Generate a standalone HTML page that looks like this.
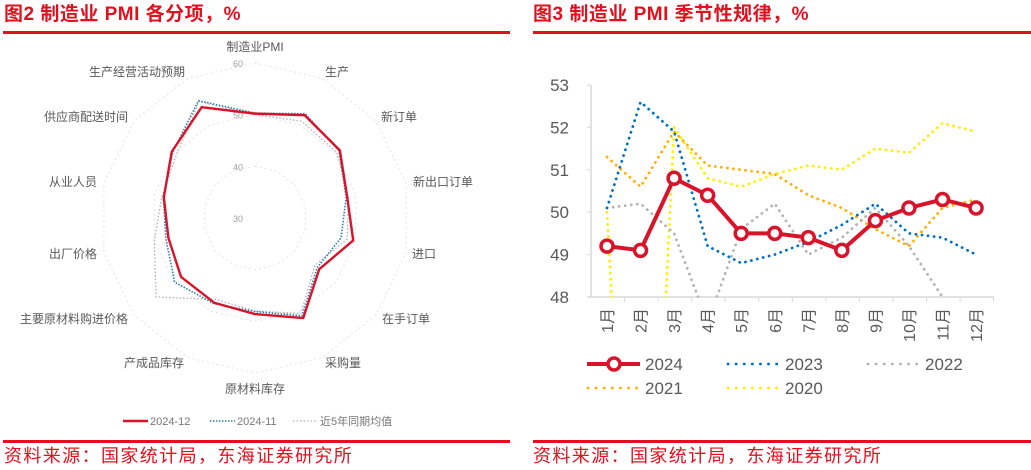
<!DOCTYPE html>
<html><head><meta charset="utf-8"><style>
body{margin:0;width:1031px;height:470px;background:#fff;overflow:hidden;font-family:"Liberation Sans","Noto Sans CJK SC",sans-serif}
.t{position:absolute;top:3px;font-size:19px;line-height:24px;font-weight:bold;color:#e0101e;white-space:nowrap;letter-spacing:0.5px}
.f{position:absolute;top:445px;font-size:18px;line-height:22px;color:#e0101e;white-space:nowrap;letter-spacing:1.4px}
.ln{position:absolute;height:3px;background:#e0101e}
svg{position:absolute;left:0;top:0}
</style></head><body>
<div class="t" style="left:4px">图2 制造业 PMI 各分项，%</div>
<div class="t" style="left:533px">图3 制造业 PMI 季节性规律，%</div>
<div class="ln" style="left:3px;top:31px;width:507px"></div>
<div class="ln" style="left:533px;top:31px;width:498px"></div>
<div class="ln" style="left:3px;top:440px;width:507px"></div>
<div class="ln" style="left:533px;top:440px;width:498px"></div>
<div class="f" style="left:4px">资料来源：国家统计局，东海证券研究所</div>
<div class="f" style="left:533px">资料来源：国家统计局，东海证券研究所</div>
<svg id="svg" width="1031" height="440"></svg>
<script>
const radarAxes=["制造业PMI","生产","新订单","新出口订单","进口","在手订单","采购量","原材料库存","产成品库存","主要原材料购进价格","出厂价格","从业人员","供应商配送时间","生产经营活动预期"];
const dec2024=[50.2,52.1,51.0,48.3,49.5,45.9,51.5,48.6,48.2,48.3,47.2,48.1,50.6,53.8];
const nov2024=[50.3,52.4,50.8,48.1,47.1,45.4,51.0,48.1,48.4,49.9,47.7,48.2,50.4,55.2];
const avg5y=[50.0,50.8,50.3,48.5,48.3,44.8,50.5,48.0,47.5,54.5,50.0,48.5,49.5,55.0];
const radarTicks=[30,40,50,60];

const months=["1月","2月","3月","4月","5月","6月","7月","8月","9月","10月","11月","12月"];
const s2024=[49.2,49.1,50.8,50.4,49.5,49.5,49.4,49.1,49.8,50.1,50.3,50.1];
const s2023=[50.1,52.6,51.9,49.2,48.8,49.0,49.3,49.7,50.2,49.5,49.4,49.0];
const s2022=[50.1,50.2,49.5,47.4,49.6,50.2,49.0,49.4,50.1,49.2,48.0,47.0];
const s2021=[51.3,50.6,51.9,51.1,51.0,50.9,50.4,50.1,49.6,49.2,50.1,50.3];
const s2020=[50.0,35.7,52.0,50.8,50.6,50.9,51.1,51.0,51.5,51.4,52.1,51.9];
const yTicks=[48,49,50,51,52,53];

// layout (label centres, not data)
const labelPos=[[255,47],[337,72],[399,117],[443,182],[424,254],[406,319],[343,363],[255,389],[154,363],[74,319],[73,254],[73,182],[86,117],[137,72]];

const svg=document.getElementById('svg');
const NS='http://www.w3.org/2000/svg';
function mk(tag,attrs,parent){const e=document.createElementNS(NS,tag);for(const k in attrs)e.setAttribute(k,attrs[k]);(parent||svg).appendChild(e);return e;}

// ---- radar ----
const cx=255,cy=218,rMin=30,rMax=60,R=155;
const n=radarAxes.length;
function rp(i,v){const a=i*2*Math.PI/n;const r=(v-rMin)/(rMax-rMin)*R;return [cx+r*Math.sin(a),cy-r*Math.cos(a)];}
radarTicks.forEach(t=>{if(t===rMin)return;
 const pts=radarAxes.map((_,i)=>rp(i,t).join(',')).join(' ');
 const g=mk('polygon',{points:pts,fill:'none',stroke:'#e3e3e3','stroke-width':1,'stroke-dasharray':'2,3'});
 
 
});
radarTicks.forEach(t=>{const p=rp(0,t);
 const tx=mk('text',{x:p[0]-17,y:p[1]+4,'font-size':9,fill:'#a0a0a0','text-anchor':'middle'});tx.textContent=t;
 
 
});
radarAxes.forEach((lab,i)=>{const p=labelPos[i];
 const tx=mk('text',{x:p[0],y:p[1]+4,'font-size':12,fill:'#595959','text-anchor':'middle'});tx.textContent=lab;
 
 
});
function radarSeries(vals,color,w,dash,name){const pts=vals.map((v,i)=>rp(i,v).join(',')).join(' ');
 const p=mk('polygon',{points:pts,fill:'none',stroke:color,'stroke-width':w,'stroke-dasharray':dash,'stroke-linejoin':'round'});
 
 
}
radarSeries(avg5y,'#b0b0b0',1.3,'1.5,2','radar-series-5yr-avg');
radarSeries(nov2024,'#2e7fae',1.6,'1.5,1.5','radar-series-2024-11');
radarSeries(dec2024,'#d9142a',2.4,'','radar-series-2024-12');
// radar legend
[[123,'#d9142a',2.5,'','2024-12'],[210,'#2e7fae',1.5,'1.5,1.5','2024-11'],[293,'#b0b0b0',1.3,'1.5,2','近5年同期均值']].forEach(l=>{
 const g=mk('g',{});
 
 
 mk('line',{x1:l[0],y1:421,x2:l[0]+25,y2:421,stroke:l[1],'stroke-width':l[2],'stroke-dasharray':l[3]},g);
 const t=mk('text',{x:l[0]+27,y:425,'font-size':11,fill:'#777'},g);t.textContent=l[4];
});

// ---- line chart ----
const X0=607,DX=33.55,Y48=297,PY=42.4,AX=591;
const xs=i=>X0+i*DX, ys=v=>Y48-(v-48)*PY;
mk('defs',{}).innerHTML='<clipPath id="pc"><rect x="591" y="60" width="420" height="237.5"/></clipPath>';
const ax=mk('line',{x1:AX,y1:ys(53),x2:AX,y2:Y48,stroke:'#d9d9d9','stroke-width':1.5});


const bx=mk('line',{x1:AX-3,y1:Y48,x2:AX+12*DX,y2:Y48,stroke:'#d9d9d9','stroke-width':1.5});


yTicks.forEach(t=>{mk('line',{x1:AX-4,y1:ys(t),x2:AX,y2:ys(t),stroke:'#d9d9d9'});
 const tx=mk('text',{x:AX-22,y:ys(t)+6,'font-size':17,fill:'#595959','text-anchor':'end'});tx.textContent=t;
 
 
});
months.forEach((m,i)=>{const bxp=AX+(i+1)*DX;mk('line',{x1:bxp,y1:Y48,x2:bxp,y2:Y48+5,stroke:'#d9d9d9'});
 const tx=mk('text',{x:0,y:0,'font-size':16,fill:'#595959','text-anchor':'end',transform:`translate(${xs(i)+6},308) rotate(-90)`});tx.textContent=m;
 
 
});
function lineSeries(vals,color,name){const d=vals.map((v,i)=>(i?'L':'M')+xs(i)+','+ys(v)).join('');
 const p=mk('path',{d:d,fill:'none',stroke:color,'stroke-width':2.8,'stroke-dasharray':'0.1,6','stroke-linecap':'round','clip-path':'url(#pc)'});
 
 
}
lineSeries(s2020,'#ffee00','line-2020');
lineSeries(s2021,'#ffb000','line-2021');
lineSeries(s2022,'#b4b4b4','line-2022');
lineSeries(s2023,'#0070c0','line-2023');
const d24=s2024.map((v,i)=>(i?'L':'M')+xs(i)+','+ys(v)).join('');
const p24=mk('path',{d:d24,fill:'none',stroke:'#d9142a','stroke-width':4,'stroke-linejoin':'round'});


s2024.forEach((v,i)=>{const c=mk('circle',{cx:xs(i),cy:ys(v),r:6,fill:'#fff',stroke:'#d9142a','stroke-width':3.5});
 
 
});
// legend
function leg(x,y,color,label,solid){const g=mk('g',{});
 
 
 if(solid){mk('line',{x1:x,y1:y,x2:x+53,y2:y,stroke:color,'stroke-width':4},g);mk('circle',{cx:x+27,cy:y,r:6,fill:'#fff',stroke:color,'stroke-width':3.5},g);}
 else mk('line',{x1:x+1,y1:y,x2:x+51,y2:y,stroke:color,'stroke-width':2.8,'stroke-dasharray':'0.1,8','stroke-linecap':'round'},g);
 const t=mk('text',{x:x+58,y:y+6,'font-size':17,fill:'#595959'},g);t.textContent=label;}
leg(587,364,'#d9142a','2024',true);
leg(727,364,'#0070c0','2023');
leg(867,364,'#b4b4b4','2022');
leg(587,388,'#ffb000','2021');
leg(727,388,'#ffee00','2020');
</script>
</body></html>
